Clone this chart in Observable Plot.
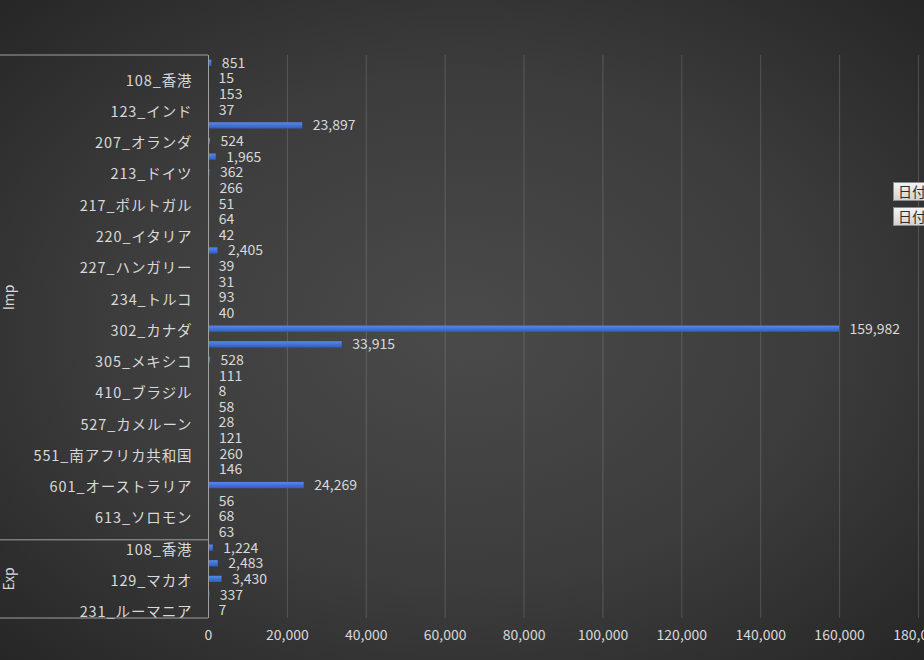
<!DOCTYPE html>
<html><head><meta charset="utf-8">
<script src="https://cdn.jsdelivr.net/npm/d3@7"></script>
<script src="https://cdn.jsdelivr.net/npm/@observablehq/plot@0.6"></script>
<style>
html,body{margin:0;padding:0;width:924px;height:660px;overflow:hidden;}
body{background: radial-gradient(ellipse farthest-corner at 50% 50%, #4a4a4a 0%, #3c3c3c 55%, #262626 100%); position:relative; font-family:"Noto Sans CJK JP", sans-serif;}
#chart{position:absolute;left:0;top:0;}
.btn{position:absolute;left:893px;width:60px;height:19px;background:linear-gradient(#f4f4f4,#d2d2d2);border:1px solid #8a8a8a;color:#2e2e2e;font-size:14px;line-height:17px;padding-left:4px;box-sizing:border-box;}
</style></head><body>
<div id="chart"></div>
<div class="btn" style="top:182px">日付</div>
<div class="btn" style="top:207px">日付</div>
<script>
// ---- data ----
const impNames = ["", "108_香港", "", "123_インド", "", "207_オランダ", "", "213_ドイツ", "", "217_ポルトガル", "", "220_イタリア", "", "227_ハンガリー", "", "234_トルコ", "", "302_カナダ", "", "305_メキシコ", "", "410_ブラジル", "", "527_カメルーン", "", "551_南アフリカ共和国", "", "601_オーストラリア", "", "613_ソロモン", ""];
const impValues = [851, 15, 153, 37, 23897, 524, 1965, 362, 266, 51, 64, 42, 2405, 39, 31, 93, 40, 159982, 33915, 528, 111, 8, 58, 28, 121, 260, 146, 24269, 56, 68, 63];
const expNames = ["108_香港", "", "129_マカオ", "", "231_ルーマニア"];
const expValues = [1224, 2483, 3430, 337, 7];
const groupNames = ["Imp", "Exp"];
const xTicks = [0, 20000, 40000, 60000, 80000, 100000, 120000, 140000, 160000, 180000];

// ---- table ----
const rows = [
  ...impNames.map((n, i) => ({key: `Imp|${i}`, name: n, group: "Imp", value: impValues[i]})),
  ...expNames.map((n, i) => ({key: `Exp|${i}`, name: n, group: "Exp", value: expValues[i]}))
];
const nameByKey = new Map(rows.map(d => [d.key, d.name]));
const fmt = d3.format(",");
const txt = "#d9d9d9";
const font = "'Noto Sans CJK JP', 'Noto Sans', sans-serif";

const plot = Plot.plot({
  width: 924, height: 660,
  marginLeft: 208, marginRight: 6, marginTop: 55, marginBottom: 42,
  style: {background: "transparent", color: txt, fontFamily: font, fontSize: "13px", overflow: "visible"},
  x: {domain: [0, 180000]},
  y: {domain: rows.map(d => d.key), paddingInner: 0.6, paddingOuter: 0.3, round: false},
  marks: [
    Plot.gridX(xTicks, {stroke: "#d9d9d9", strokeOpacity: 0.2}),
    Plot.barX(rows, {x: "value", y: "key", fill: "url(#barGrad)"}),
    Plot.ruleX([0], {stroke: "#a0a0a0"}),
    Plot.text(rows, {x: "value", y: "key", text: d => fmt(d.value), textAnchor: "start", dx: 10, fill: txt, fontSize: 14}),
    Plot.axisX(xTicks, {tickSize: 0, tickPadding: 12, tickFormat: fmt, fill: txt, fontSize: 14, label: null}),
    Plot.axisY({tickSize: 0, tickPadding: 16, tickFormat: k => nameByKey.get(k), fill: txt, fontSize: 14.5, label: null, dy: 2})
  ]
});
document.getElementById("chart").appendChild(plot);

// ---- decorations derived from scales ----
const svg = d3.select(plot);
svg.selectAll('g[aria-label="y-axis tick label"]').style("letter-spacing", "0.9px");
const defs = svg.insert("defs", ":first-child");
const grad = defs.append("linearGradient").attr("id", "barGrad").attr("x1", 0).attr("y1", 0).attr("x2", 0).attr("y2", 1);
grad.append("stop").attr("offset", "0%").attr("stop-color", "#5888e6");
grad.append("stop").attr("offset", "100%").attr("stop-color", "#2e5ec6");

const ys = plot.scale("y");
const step = ys.step;
const frameTop = 55, frameBottom = 660 - 42;
const bounds = [frameTop];
groupNames.slice(1).forEach(gn => bounds.push(ys.apply(`${gn}|0`) - 0.3 * step));
bounds.push(frameBottom);
const dec = svg.append("g");
bounds.forEach(y => dec.append("line").attr("x1", 0).attr("x2", 208).attr("y1", y).attr("y2", y).attr("stroke", "#a0a0a0"));
groupNames.forEach((gn, i) => {
  const cy = (bounds[i] + bounds[i + 1]) / 2;
  dec.append("text").attr("transform", `translate(14,${cy}) rotate(-90)`)
    .attr("text-anchor", "middle").attr("fill", txt).attr("font-size", 14).attr("font-family", font).text(gn);
});
</script>
</body></html>
